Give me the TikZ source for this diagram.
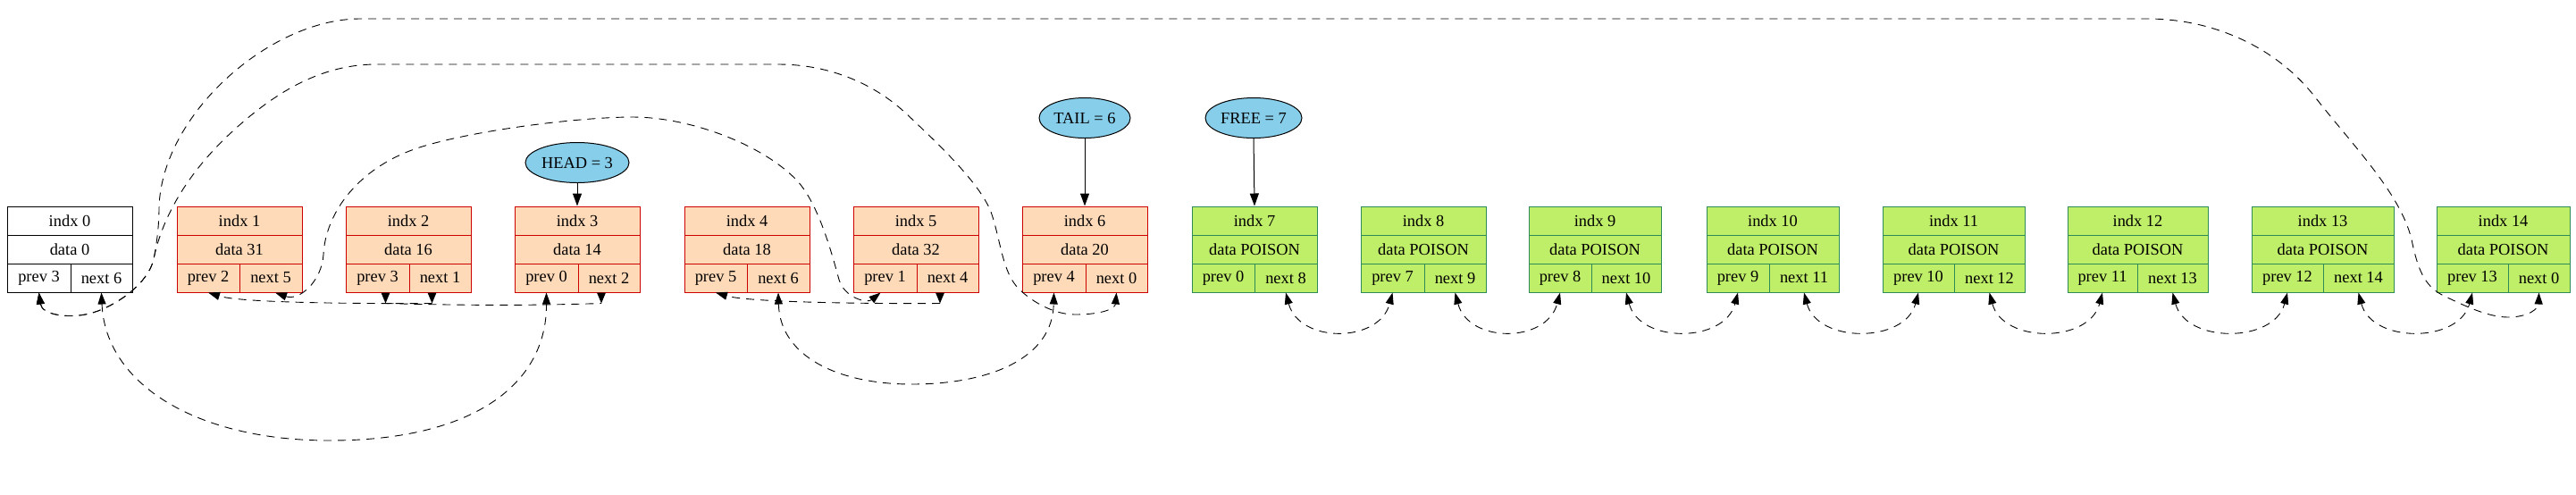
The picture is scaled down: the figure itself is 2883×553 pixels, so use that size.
\documentclass[tikz,border=0pt]{standalone}
\usepackage{fontspec}
\setmainfont{Liberation Serif}
\usetikzlibrary{arrows.meta,shapes.geometric,calc}
\definecolor{peach}{HTML}{FFDAB9}
\definecolor{redb}{HTML}{CC0000}
\definecolor{greenf}{HTML}{BFEE69}
\definecolor{greenb}{HTML}{2E8B57}
\definecolor{sky}{HTML}{87CEEB}
% name, left, split, right, indx, data, prev, next, style
\newcommand\rec[9]{%
  \node[#9, minimum width={(#4-#2)*0.5pt}] (#1i) at ({(#2+#4)/2},247) {indx #5};
  \node[#9, minimum width={(#4-#2)*0.5pt}] (#1d) at ({(#2+#4)/2},279) {data #6};
  \node[#9, minimum width={(#3-#2)*0.5pt}] (#1p) at ({(#2+#3)/2},311) {prev #7};
  \node[#9, minimum width={(#4-#3)*0.5pt}] (#1n) at ({(#3+#4)/2},311) {next #8};
}
\newcommand\vtip[1]{\fill (#1) ++(-5,-12) -- ++(10,0) -- ++(-5,12) -- cycle;}
\begin{document}
\begin{tikzpicture}[x=0.5pt,y=-0.5pt,
  cell/.style={draw, line width=0.5pt, minimum height=16pt, inner sep=0pt,
    font=\fontsize{9.2}{10}\selectfont},
  wcell/.style={cell, fill=white, draw=black},
  rcell/.style={cell, fill=peach, draw=redb},
  gcell/.style={cell, fill=greenf, draw=greenb},
  ptr/.style={ellipse, draw=black, fill=sky, line width=0.5pt, inner sep=0pt,
    minimum height=22.5pt, font=\fontsize{9.2}{10}\selectfont},
  solidarrow/.style={draw, line width=0.5pt, arrows={-Triangle[length=7pt,width=5pt]}},
  link/.style={draw, line width=0.45pt, dash pattern=on 4.5pt off 3.5pt},
  linkboth/.style={link, arrows={Triangle[length=6.5pt,width=4.5pt]-Triangle[length=6.5pt,width=4.5pt]}},
  linkend/.style={link, arrows={-Triangle[length=6.5pt,width=4.5pt]}},
]
\useasboundingbox (0,0) rectangle (2883,553);

\rec{n0}{8}{79}{148}{0}{0}{3}{6}{wcell}
\rec{n1}{198}{268}{338}{1}{31}{2}{5}{rcell}
\rec{n2}{387}{458}{527}{2}{16}{3}{1}{rcell}
\rec{n3}{576}{647}{716}{3}{14}{0}{2}{rcell}
\rec{n4}{766}{836}{906}{4}{18}{5}{6}{rcell}
\rec{n5}{955}{1026}{1095}{5}{32}{1}{4}{rcell}
\rec{n6}{1144}{1215}{1284}{6}{20}{4}{0}{rcell}
\rec{n7}{1334}{1404}{1474}{7}{POISON}{0}{8}{gcell}
\rec{n8}{1523}{1594}{1663}{8}{POISON}{7}{9}{gcell}
\rec{n9}{1711}{1781}{1859}{9}{POISON}{8}{10}{gcell}
\rec{n10}{1910}{1980}{2058}{10}{POISON}{9}{11}{gcell}
\rec{n11}{2107}{2187}{2266}{11}{POISON}{10}{12}{gcell}
\rec{n12}{2314}{2392}{2471}{12}{POISON}{11}{13}{gcell}
\rec{n13}{2520}{2600}{2679}{13}{POISON}{12}{14}{gcell}
\rec{n14}{2727}{2807}{2876}{14}{POISON}{13}{0}{gcell}

\node[ptr, minimum width=58pt] (head) at (646,182) {HEAD = 3};
\node[ptr, minimum width=51pt] (tail) at (1214,132) {TAIL = 6};
\node[ptr, minimum width=54pt] (free) at (1403,132) {FREE = 7};
\draw[solidarrow] (head.south) -- (n3i.north);
\draw[solidarrow] (tail.south) -- (n6i.north);
\draw[solidarrow] (free.south) -- (n7i.north);

% tips of the downward arrowheads
\coordinate (c2n) at ($(n2n.south)+(-9,12)$);
\coordinate (c2p) at ($(n2p.south)+(9,12)$);
\coordinate (c3n) at ($(n3n.south)+(-8.5,12)$);
\coordinate (c5n) at ($(n5n.south)+(-8.5,12)$);
\vtip{c2n}
\vtip{c2p}
\vtip{c3n}
\vtip{c5n}

% arc A: n0 prev <-> n14 next
\draw[linkboth] (n0p.south) .. controls (47,352) and (75,357) .. (100,351)
  .. controls (125,345) and (165,320) .. (172,290)
  .. controls (176,270) and (178,250) .. (178,233)
  .. controls (180,130) and (300,22) .. (402,21)
  -- (2403,21)
  .. controls (2480,21) and (2550,55) .. (2592,110)
  .. controls (2635,165) and (2690,220) .. (2700,273)
  .. controls (2707,305) and (2715,322) .. (2737,332)
  .. controls (2760,343) and (2785,355) .. (2807,355)
  .. controls (2830,355) and (2841,345) .. (n14n.south);

% arc B: n0 prev <-> n6 next
\draw[linkboth] (n0p.south) .. controls (47,352) and (75,357) .. (100,351)
  .. controls (125,345) and (165,320) .. (172,290)
  .. controls (180,250) and (205,195) .. (268,140)
  .. controls (310,103) and (360,72) .. (421,72)
  -- (871,72)
  .. controls (930,72) and (980,95) .. (1014,127)
  .. controls (1060,170) and (1100,210) .. (1110,240)
  .. controls (1120,270) and (1122,305) .. (1140,323)
  .. controls (1155,338) and (1180,352) .. (1203,352)
  .. controls (1235,352) and (1248,345) .. (n6n.south);

% arc C: n1 next <-> n5 prev
\draw[linkboth] ([xshift=2.5pt]n1n.south) .. controls (335,337) and (360,315) .. (362,285)
  .. controls (364,240) and (400,185) .. (476,163)
  .. controls (537,145) and (650,131) .. (708,131)
  .. controls (770,131) and (850,160) .. (890,200)
  .. controls (915,225) and (930,280) .. (939,313)
  .. controls (945,333) and (970,340) .. ([xshift=-2.5pt]n5p.south);

% lower arcs
\draw[linkboth] (n0n.south) .. controls (118,430) and (220,493) .. (369,493)
  .. controls (530,493) and (612,430) .. (n3p.south);
\draw[linkboth] (n4n.south) .. controls (873,400) and (940,430) .. (1020,430)
  .. controls (1110,430) and (1178,400) .. (n6p.south);

% short links along the bottom
\draw[linkend] (c2n) .. controls (400,340) and (270,339) .. (n1p.south);
\draw[link] (c2p) .. controls (520,342) and (600,342) .. (c3n);
\draw[linkend] (c5n) .. controls (990,340) and (840,339) .. (n4p.south);

% free list
\foreach \a/\b in {7/8,8/9,9/10,10/11,11/12,12/13,13/14}
  \draw[linkboth] (n\a n.south) .. controls +(15,57) and +(-15,57) .. (n\b p.south);
\end{tikzpicture}
\end{document}
